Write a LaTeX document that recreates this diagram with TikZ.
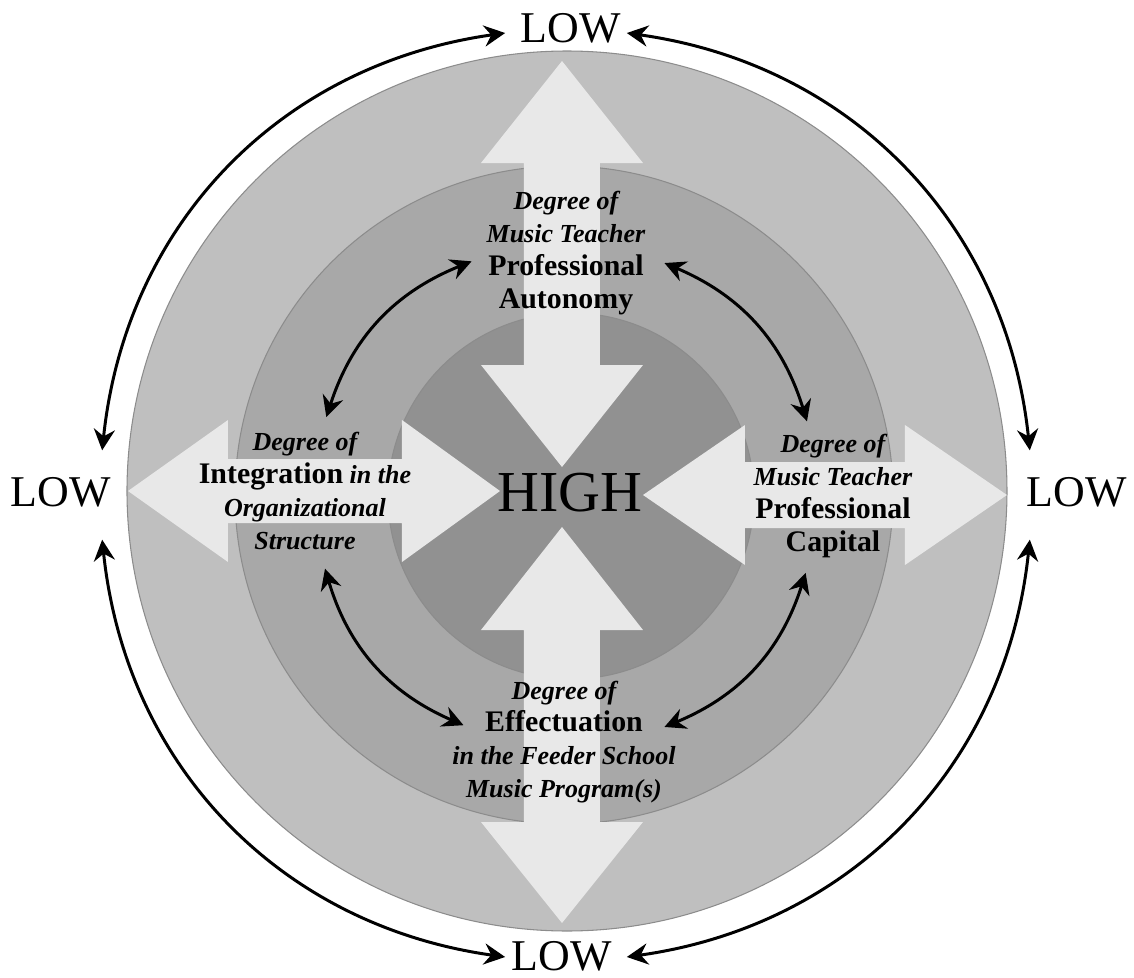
\documentclass[tikz,border=0pt]{standalone}
\usepackage{fontspec}
\setmainfont{Liberation Serif}
\usepackage{tikz}
\usetikzlibrary{arrows.meta}
\newcommand{\keyword}[1]{{\upshape\fontsize{17}{18.7}\selectfont #1}}

\begin{document}
\begin{tikzpicture}[x=0.02cm, y=0.02cm, >={Stealth[length=12pt, width=12pt, inset=4pt]}]
    % Estilos
    \tikzstyle{ring} = [draw=black!45, line width=0.6pt]
    \tikzstyle{arm} = [fill=black!9]
    \tikzstyle{facet} = [align=center, inner sep=0pt, font=\fontsize{14.8}{18.7}\selectfont\bfseries\itshape]
    \tikzstyle{level} = [inner sep=0pt, font=\fontsize{25}{30}\selectfont]
    \tikzstyle{link} = [<->, line width=1.7pt]

    \useasboundingbox (-566,-483) rectangle (568,495);

    % Circulos
    \filldraw[ring, fill=black!25] (1,4) circle[radius=440];
    \filldraw[ring, fill=black!34] (-2,0) circle[radius=329];
    \filldraw[ring, fill=black!43] (5,-1) circle[radius=183];

    % Flechas grandes
    \fill[arm] (-4,434) -- (77,332) -- (34,332) -- (34,130) -- (77,130) -- (-4,28)
        -- (-85,130) -- (-42,130) -- (-42,332) -- (-85,332) -- cycle;
    \fill[arm] (-4,-428) -- (77,-327) -- (34,-327) -- (34,-135) -- (77,-135) -- (-4,-32)
        -- (-85,-135) -- (-42,-135) -- (-42,-327) -- (-85,-327) -- cycle;
    \fill[arm] (-438,4) -- (-338,75) -- (-338,36) -- (-164,36) -- (-164,75) -- (-66,4)
        -- (-164,-67) -- (-164,-28) -- (-338,-28) -- (-338,-67) -- cycle;
    \fill[arm] (441,0) -- (339,70) -- (339,33) -- (179,33) -- (179,70) -- (77,0)
        -- (179,-70) -- (179,-33) -- (339,-33) -- (339,-70) -- cycle;

    % Textos
    \node[level, font=\fontsize{33}{40}\selectfont] (high) at (4,2) {HIGH};
    \node[level] (lowN) at (5,467) {LOW};
    \node[level] (lowS) at (-4,-461) {LOW};
    \node[level] (lowW) at (-505,3) {LOW};
    \node[level] (lowE) at (511,3) {LOW};

    \node[facet] (autonomy) at (0,242) {Degree of\\Music Teacher\\\keyword{Professional}\\\keyword{Autonomy}};
    \node[facet] (integration) at (-261,4) {Degree of\\\keyword{Integration} in the\\Organizational\\Structure};
    \node[facet] (capital) at (267,-1) {Degree of\\Music Teacher\\\keyword{Professional}\\\keyword{Capital}};
    \node[facet] (effectuation) at (-2,-247) {Degree of\\\keyword{Effectuation}\\in the Feeder School\\Music Program(s)};

    % Puntas de las flechas curvas
    \coordinate (autW) at (112:252);
    \coordinate (intN) at (162:252);
    \coordinate (autE) at (67:252);
    \coordinate (capN) at (17:252);
    \coordinate (intS) at (197:252);
    \coordinate (effW) at (246:252);
    \coordinate (capS) at (-18:252);
    \coordinate (effE) at (-67:252);

    \coordinate (oNW) at (97.5:466);
    \coordinate (oWN) at (174.5:466);
    \coordinate (oWS) at (185.5:466);
    \coordinate (oSW) at (262.5:466);
    \coordinate (oSE) at (277.5:466);
    \coordinate (oES) at (354.5:466);
    \coordinate (oEN) at (5.5:466);
    \coordinate (oNE) at (82.5:466);

    \draw[link] (autW) to[bend right=25] (intN);
    \draw[link] (autE) to[bend left=25] (capN);
    \draw[link] (intS) to[bend right=25] (effW);
    \draw[link] (capS) to[bend left=25] (effE);

    \draw[link] (oNW) to[bend right=38] (oWN);
    \draw[link] (oWS) to[bend right=38] (oSW);
    \draw[link] (oSE) to[bend right=38] (oES);
    \draw[link] (oEN) to[bend right=38] (oNE);

\end{tikzpicture}
\end{document}
